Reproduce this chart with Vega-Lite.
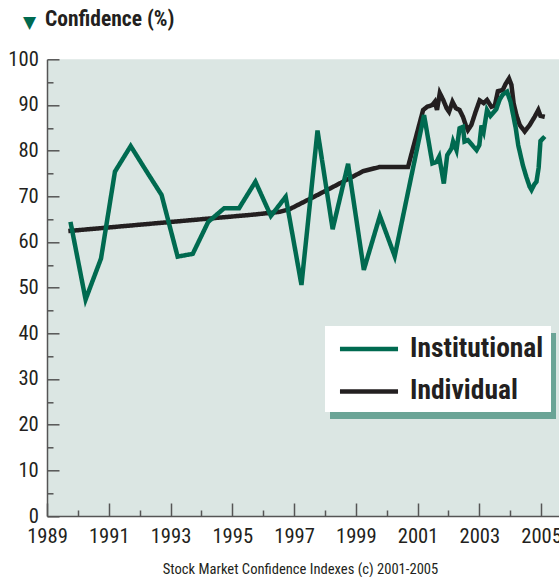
{
  "$schema": "https://vega.github.io/schema/vega-lite/v6.json",
  "width": 512,
  "height": 456.7,
  "autosize": {"type": "none"},
  "padding": {"left": 47, "top": 59.3, "right": 0, "bottom": 61},
  "background": "#ffffff",
  "title": {"text": "Confidence (%)", "anchor": "start", "frame": "group", "font": "Roboto Condensed, Roboto, sans-serif", "fontWeight": "bold", "fontSize": 21.5, "color": "#231f20", "baseline": "alphabetic", "offset": 0, "dy": 34.3, "dx": -2},
  "config": {"view": {"fill": "#dbe6e3", "stroke": null}, "font": "Roboto Condensed, Roboto, sans-serif"},
  "data": {"values": [
    {"series": "Individual", "year": 1989.69, "value": 62.4},
    {"series": "Individual", "year": 1990.7, "value": 63.0},
    {"series": "Individual", "year": 1991.7, "value": 63.6},
    {"series": "Individual", "year": 1992.7, "value": 64.2},
    {"series": "Individual", "year": 1993.7, "value": 64.8},
    {"series": "Individual", "year": 1994.7, "value": 65.4},
    {"series": "Individual", "year": 1995.7, "value": 66.0},
    {"series": "Individual", "year": 1996.54, "value": 66.6},
    {"series": "Individual", "year": 1996.86, "value": 67.2},
    {"series": "Individual", "year": 1997.62, "value": 69.8},
    {"series": "Individual", "year": 1998.16, "value": 71.7},
    {"series": "Individual", "year": 1998.7, "value": 73.6},
    {"series": "Individual", "year": 1999.24, "value": 75.5},
    {"series": "Individual", "year": 1999.76, "value": 76.4},
    {"series": "Individual", "year": 2000.69, "value": 76.4},
    {"series": "Individual", "year": 2001.18, "value": 88.9},
    {"series": "Individual", "year": 2001.31, "value": 89.6},
    {"series": "Individual", "year": 2001.48, "value": 90.0},
    {"series": "Individual", "year": 2001.56, "value": 90.7},
    {"series": "Individual", "year": 2001.63, "value": 88.9},
    {"series": "Individual", "year": 2001.72, "value": 92.6},
    {"series": "Individual", "year": 2001.83, "value": 91.1},
    {"series": "Individual", "year": 2001.94, "value": 89.3},
    {"series": "Individual", "year": 2002.02, "value": 88.5},
    {"series": "Individual", "year": 2002.13, "value": 90.7},
    {"series": "Individual", "year": 2002.24, "value": 89.3},
    {"series": "Individual", "year": 2002.36, "value": 88.9},
    {"series": "Individual", "year": 2002.47, "value": 87.4},
    {"series": "Individual", "year": 2002.56, "value": 85.6},
    {"series": "Individual", "year": 2002.63, "value": 84.5},
    {"series": "Individual", "year": 2002.74, "value": 85.6},
    {"series": "Individual", "year": 2002.88, "value": 88.5},
    {"series": "Individual", "year": 2003.01, "value": 91.0},
    {"series": "Individual", "year": 2003.14, "value": 90.4},
    {"series": "Individual", "year": 2003.25, "value": 91.1},
    {"series": "Individual", "year": 2003.39, "value": 89.6},
    {"series": "Individual", "year": 2003.5, "value": 89.8},
    {"series": "Individual", "year": 2003.6, "value": 93.0},
    {"series": "Individual", "year": 2003.76, "value": 93.3},
    {"series": "Individual", "year": 2003.85, "value": 94.6},
    {"series": "Individual", "year": 2003.96, "value": 95.8},
    {"series": "Individual", "year": 2004.04, "value": 94.4},
    {"series": "Individual", "year": 2004.11, "value": 90.4},
    {"series": "Individual", "year": 2004.2, "value": 87.8},
    {"series": "Individual", "year": 2004.31, "value": 85.6},
    {"series": "Individual", "year": 2004.47, "value": 84.2},
    {"series": "Individual", "year": 2004.63, "value": 85.6},
    {"series": "Individual", "year": 2004.79, "value": 87.4},
    {"series": "Individual", "year": 2004.91, "value": 88.9},
    {"series": "Individual", "year": 2004.98, "value": 87.6},
    {"series": "Individual", "year": 2005.12, "value": 87.4},
    {"series": "Institutional", "year": 1989.76, "value": 64.4},
    {"series": "Institutional", "year": 1990.25, "value": 47.4},
    {"series": "Institutional", "year": 1990.75, "value": 56.4},
    {"series": "Institutional", "year": 1991.2, "value": 75.4},
    {"series": "Institutional", "year": 1991.71, "value": 81.0},
    {"series": "Institutional", "year": 1992.21, "value": 75.6},
    {"series": "Institutional", "year": 1992.71, "value": 70.3},
    {"series": "Institutional", "year": 1993.23, "value": 56.8},
    {"series": "Institutional", "year": 1993.72, "value": 57.4},
    {"series": "Institutional", "year": 1994.22, "value": 64.4},
    {"series": "Institutional", "year": 1994.74, "value": 67.4},
    {"series": "Institutional", "year": 1995.22, "value": 67.4},
    {"series": "Institutional", "year": 1995.75, "value": 73.2},
    {"series": "Institutional", "year": 1996.25, "value": 65.7},
    {"series": "Institutional", "year": 1996.73, "value": 69.9},
    {"series": "Institutional", "year": 1997.24, "value": 50.6},
    {"series": "Institutional", "year": 1997.76, "value": 84.4},
    {"series": "Institutional", "year": 1998.25, "value": 62.8},
    {"series": "Institutional", "year": 1998.75, "value": 77.1},
    {"series": "Institutional", "year": 1999.26, "value": 53.9},
    {"series": "Institutional", "year": 1999.78, "value": 65.7},
    {"series": "Institutional", "year": 2000.26, "value": 56.9},
    {"series": "Institutional", "year": 2001.21, "value": 87.8},
    {"series": "Institutional", "year": 2001.48, "value": 77.2},
    {"series": "Institutional", "year": 2001.61, "value": 77.5},
    {"series": "Institutional", "year": 2001.7, "value": 78.7},
    {"series": "Institutional", "year": 2001.85, "value": 72.8},
    {"series": "Institutional", "year": 2001.96, "value": 79.0},
    {"series": "Institutional", "year": 2002.1, "value": 80.5},
    {"series": "Institutional", "year": 2002.15, "value": 82.0},
    {"series": "Institutional", "year": 2002.26, "value": 80.1},
    {"series": "Institutional", "year": 2002.36, "value": 84.9},
    {"series": "Institutional", "year": 2002.47, "value": 85.2},
    {"series": "Institutional", "year": 2002.52, "value": 82.0},
    {"series": "Institutional", "year": 2002.63, "value": 82.3},
    {"series": "Institutional", "year": 2002.91, "value": 80.1},
    {"series": "Institutional", "year": 2003.0, "value": 81.2},
    {"series": "Institutional", "year": 2003.07, "value": 85.5},
    {"series": "Institutional", "year": 2003.14, "value": 84.2},
    {"series": "Institutional", "year": 2003.25, "value": 88.9},
    {"series": "Institutional", "year": 2003.36, "value": 87.6},
    {"series": "Institutional", "year": 2003.55, "value": 89.1},
    {"series": "Institutional", "year": 2003.66, "value": 91.2},
    {"series": "Institutional", "year": 2003.76, "value": 92.3},
    {"series": "Institutional", "year": 2003.9, "value": 92.9},
    {"series": "Institutional", "year": 2004.01, "value": 90.7},
    {"series": "Institutional", "year": 2004.09, "value": 88.0},
    {"series": "Institutional", "year": 2004.18, "value": 84.9},
    {"series": "Institutional", "year": 2004.26, "value": 81.2},
    {"series": "Institutional", "year": 2004.41, "value": 76.8},
    {"series": "Institutional", "year": 2004.52, "value": 74.3},
    {"series": "Institutional", "year": 2004.63, "value": 72.1},
    {"series": "Institutional", "year": 2004.69, "value": 71.4},
    {"series": "Institutional", "year": 2004.78, "value": 72.6},
    {"series": "Institutional", "year": 2004.85, "value": 73.2},
    {"series": "Institutional", "year": 2004.92, "value": 76.2},
    {"series": "Institutional", "year": 2004.98, "value": 82.1},
    {"series": "Institutional", "year": 2005.12, "value": 83.1}
  ]},
  "mark": {"type": "line", "strokeWidth": 4.5, "clip": true},
  "encoding": {
    "x": {
      "field": "year", "type": "quantitative",
      "scale": {"domain": [1989, 2005.58], "nice": false, "zero": false},
      "axis": {
        "values": [1989, 1990, 1991, 1992, 1993, 1994, 1995, 1996, 1997, 1998, 1999, 2000, 2001, 2002, 2003, 2004, 2005],
        "format": "d",
        "labelExpr": "datum.value % 2 == 1 ? datum.label : ''",
        "tickSize": {"condition": {"test": "datum.value % 2 == 1", "value": -13}, "value": -6},
        "grid": false,
        "domainColor": "#555555", "tickColor": "#555555", "domainWidth": 1.5, "tickWidth": 1.5,
        "labelFont": "Roboto Condensed, Roboto, sans-serif", "labelFontSize": 20.6, "labelColor": "#231f20",
        "labelPadding": 23.8, "labelBaseline": "top", "labelFlush": false, "labelOverlap": false,
        "title": "Stock Market Confidence Indexes (c) 2001-2005",
        "titleFont": "Roboto Condensed, Roboto, sans-serif", "titleFontWeight": "normal", "titleFontSize": 14.6, "titleColor": "#231f20",
        "titleX": 253, "titleY": 57.5, "titleAlign": "center", "titleBaseline": "alphabetic"
      }
    },
    "y": {
      "field": "value", "type": "quantitative",
      "scale": {"domain": [0, 100], "nice": false},
      "axis": {
        "values": [0, 5, 10, 15, 20, 25, 30, 35, 40, 45, 50, 55, 60, 65, 70, 75, 80, 85, 90, 95, 100],
        "labelExpr": "datum.value % 10 == 0 ? datum.label : ''",
        "tickSize": {"condition": {"test": "datum.value % 10 == 0", "value": -12}, "value": -6},
        "grid": false,
        "domainColor": "#555555", "tickColor": "#555555", "domainWidth": 1.5, "tickWidth": 1.5,
        "labelFont": "Roboto Condensed, Roboto, sans-serif", "labelFontSize": 20.6, "labelColor": "#231f20",
        "labelPadding": 20.7, "labelFlush": false, "labelOverlap": false,
        "title": "▼", "titleColor": "#006a50", "titleFont": "DejaVu Sans", "titleFontSize": 17,
        "titleAngle": 0, "titleX": -18, "titleY": -32, "titleAlign": "center", "titleBaseline": "alphabetic"
      }
    },
    "color": {
      "field": "series", "type": "nominal",
      "scale": {"domain": ["Institutional", "Individual"], "range": ["#006a50", "#231f20"]},
      "legend": {
        "title": null, "orient": "none", "legendX": 278, "legendY": 266.7, "zindex": 2,
        "fillColor": "#ffffff", "padding": 7,
        "symbolType": "M-2.15,0H2.15", "symbolSize": 729, "symbolStrokeWidth": 4.5, "symbolFillColor": "transparent",
        "symbolOffset": 21, "labelOffset": 25, "rowPadding": 12.4,
        "labelFont": "Roboto Condensed, Roboto, sans-serif", "labelFontWeight": "bold", "labelFontSize": 27.5, "labelColor": "#231f20", "labelLimit": 300
      }
    },
    "strokeDash": {
      "field": "series", "type": "nominal",
      "scale": {"domain": ["Individual", "Institutional"], "range": [[1, 0], [1, 0]]},
      "legend": {
        "title": null, "orient": "none", "legendX": 283, "legendY": 273.7, "zindex": 1,
        "fillColor": "#6aa496", "padding": 7,
        "symbolType": "M-2.15,0H2.15", "symbolSize": 729, "symbolStrokeWidth": 4.5, "symbolOpacity": 0,
        "symbolOffset": 21, "labelOffset": 25, "rowPadding": 12.4,
        "labelFont": "Roboto Condensed, Roboto, sans-serif", "labelFontWeight": "bold", "labelFontSize": 27.5, "labelOpacity": 0, "labelLimit": 300
      }
    }
  }
}
